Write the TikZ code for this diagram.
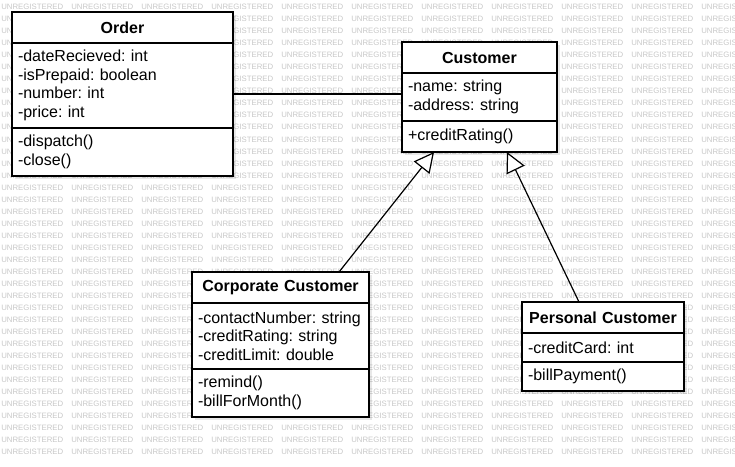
\documentclass[tikz,border=0pt]{standalone}
\usepackage{fontspec}
\setmainfont{Liberation Sans}
\usetikzlibrary{positioning, arrows.meta, shadows}

\begin{document}
\frenchspacing
\begin{tikzpicture}[x=0.75pt, y=-0.75pt, every node/.style={font=\fontsize{12}{14}\selectfont}]
    \tikzstyle{wmark} = [text=black!22, font=\fontsize{5.85}{6}\selectfont, inner sep=0pt, anchor=west]
    \tikzstyle{classbox} = [draw, line width=0.9pt, fill=white, outer sep=0pt, inner xsep=4.5pt, inner ysep=0pt, drop shadow={shadow xshift=2.25pt, shadow yshift=-2.25pt, fill=black, opacity=0.09}]
    \tikzstyle{classname} = [classbox, align=center, minimum height=23.25pt, anchor=north west, font=\fontsize{12}{14}\selectfont\bfseries]
    \tikzstyle{classpart} = [classbox, align=left]
    \tikzstyle{inherit} = [line width=0.9pt, -{Triangle[open, length=15pt, width=15pt, fill=white]}]

    \useasboundingbox (0,0) rectangle (735,467);
    \begin{scope}
        \clip (0,0) rectangle (735,467);
        \foreach \r in {0,...,37}
            \foreach \c in {0,...,10}
                \node[wmark] (wm-\r-\c) at ({1+70*\c},{7+12.03*\r}) {UNREGISTERED};
    \end{scope}

    \node[classname, text width=156.75pt] (ordT) at (12,12) {Order};
    \node[classpart, text width=156.75pt, minimum height=63.75pt, below=0pt of ordT] (ordA) {-dateRecieved: int\\-isPrepaid: boolean\\-number: int\\-price: int};
    \node[classpart, text width=156.75pt, minimum height=36pt, below=0pt of ordA] (ordM) {-dispatch()\\-close()};

    \node[classname, text width=107.25pt] (custT) at (402,42) {Customer};
    \node[classpart, text width=107.25pt, minimum height=36pt, below=0pt of custT] (custA) {-name: string\\-address: string};
    \node[classpart, text width=107.25pt, minimum height=23.25pt, below=0pt of custA] (custM) {+creditRating()};

    \node[classname, text width=123.75pt] (corpT) at (192,272) {Corporate Customer};
    \node[classpart, text width=123.75pt, minimum height=49.5pt, below=0pt of corpT] (corpA) {-contactNumber: string\\-creditRating: string\\-creditLimit: double};
    \node[classpart, text width=123.75pt, minimum height=36pt, below=0pt of corpA] (corpM) {-remind()\\-billForMonth()};

    \node[classname, text width=112.5pt] (persT) at (522,302) {Personal Customer};
    \node[classpart, text width=112.5pt, minimum height=21.75pt, below=0pt of persT] (persA) {-creditCard: int};
    \node[classpart, text width=112.5pt, minimum height=21.75pt, below=0pt of persA] (persM) {-billPayment()};

    \draw[line width=0.9pt] ([yshift=-6.375pt]ordA.east) -- ([yshift=-6.375pt]ordA.east -| custA.west);
    \draw[inherit] ([xshift=43.9pt]corpT.north) -- ([xshift=-34.1pt]custM.south);
    \draw[inherit] ([xshift=-18pt]persT.north) -- ([xshift=20.6pt]custM.south);
\end{tikzpicture}
\end{document}
